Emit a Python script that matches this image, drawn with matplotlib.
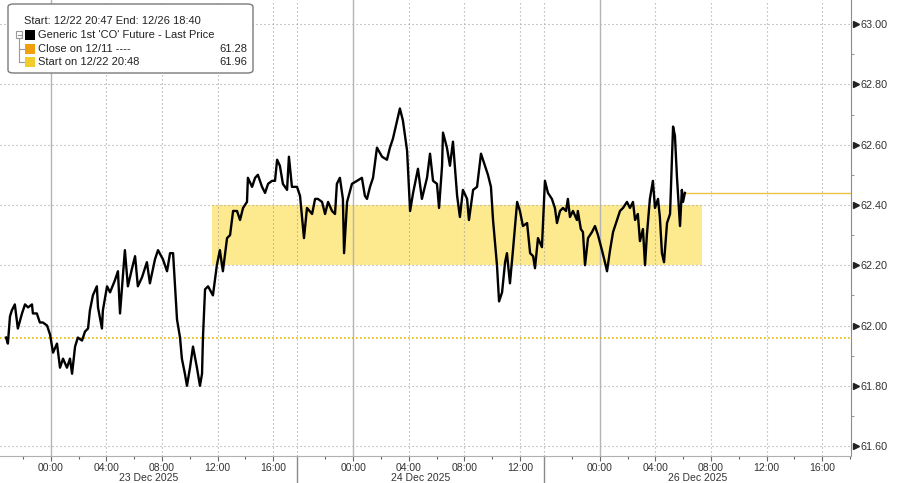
import pandas as pd
import matplotlib
matplotlib.use("Agg")
import matplotlib.pyplot as plt
import matplotlib.transforms as mtransforms
from matplotlib.patches import Rectangle, FancyBboxPatch
from matplotlib.lines import Line2D

plt.rcParams['font.family'] = ['Liberation Sans', 'DejaVu Sans']

# --- trading sessions on the axis (the hours between them are cut out) ---
sessions = [('2025-12-22 20:00', '2025-12-23 17:45'),
            ('2025-12-23 20:00', '2025-12-24 13:45'),
            ('2025-12-25 20:00', '2025-12-26 18:40')]
session_labels = ['23 Dec 2025', '24 Dec 2025', '26 Dec 2025']
view_start = '2025-12-22 20:21'
view_end = '2025-12-26 18:04'

# --- Generic 1st 'CO' Future - last price ---
s1_times = ['12-22 20:47', '12-22 20:55', '12-22 21:04', '12-22 21:12', '12-22 21:25', '12-22 21:38',
            '12-22 21:56', '12-22 22:09', '12-22 22:22', '12-22 22:39', '12-22 22:43', '12-22 23:00',
            '12-22 23:13', '12-22 23:26', '12-22 23:44', '12-22 23:57', '12-23 00:10', '12-23 00:27',
            '12-23 00:40', '12-23 00:53', '12-23 01:10', '12-23 01:23', '12-23 01:32', '12-23 01:45',
            '12-23 01:57', '12-23 02:15', '12-23 02:28', '12-23 02:41', '12-23 02:49', '12-23 03:02',
            '12-23 03:19', '12-23 03:24', '12-23 03:41', '12-23 03:45', '12-23 04:03', '12-23 04:16',
            '12-23 04:37', '12-23 04:50', '12-23 04:59', '12-23 05:20', '12-23 05:33', '12-23 05:51',
            '12-23 06:04', '12-23 06:16', '12-23 06:34', '12-23 06:55', '12-23 07:08', '12-23 07:30',
            '12-23 07:43', '12-23 08:04', '12-23 08:22', '12-23 08:35', '12-23 08:48', '12-23 09:05',
            '12-23 09:18', '12-23 09:26', '12-23 09:39', '12-23 09:48', '12-23 10:01', '12-23 10:14',
            '12-23 10:31', '12-23 10:44', '12-23 10:53', '12-23 10:57', '12-23 11:06', '12-23 11:19',
            '12-23 11:40', '12-23 11:57', '12-23 12:10', '12-23 12:23', '12-23 12:41', '12-23 12:54',
            '12-23 13:07', '12-23 13:24', '12-23 13:37', '12-23 13:50', '12-23 14:07', '12-23 14:11',
            '12-23 14:29', '12-23 14:42', '12-23 14:54', '12-23 15:12', '12-23 15:25', '12-23 15:38',
            '12-23 15:55', '12-23 16:08', '12-23 16:17', '12-23 16:29', '12-23 16:42', '12-23 17:00',
            '12-23 17:08', '12-23 17:21', '12-23 17:43']
s1_prices = [61.96, 61.94, 62.03, 62.05, 62.07, 61.99, 62.04, 62.07, 62.06, 62.07, 62.04, 62.04,
             62.01, 62.01, 62.00, 61.97, 61.91, 61.94, 61.86, 61.89, 61.86, 61.89, 61.84, 61.93,
             61.96, 61.95, 61.98, 61.99, 62.05, 62.10, 62.13, 62.06, 61.99, 62.05, 62.13, 62.11,
             62.15, 62.18, 62.04, 62.25, 62.13, 62.19, 62.23, 62.13, 62.16, 62.21, 62.14, 62.22,
             62.25, 62.22, 62.18, 62.24, 62.24, 62.02, 61.96, 61.89, 61.84, 61.80, 61.86, 61.93,
             61.86, 61.80, 61.84, 61.96, 62.12, 62.13, 62.10, 62.20, 62.25, 62.18, 62.29, 62.30,
             62.38, 62.38, 62.35, 62.39, 62.41, 62.49, 62.46, 62.49, 62.50, 62.46, 62.44, 62.47,
             62.48, 62.48, 62.55, 62.53, 62.47, 62.45, 62.56, 62.46, 62.46]

s2_times = ['12-23 20:11', '12-23 20:28', '12-23 20:41', '12-23 21:03', '12-23 21:16', '12-23 21:28',
            '12-23 21:46', '12-23 21:59', '12-23 22:12', '12-23 22:29', '12-23 22:42', '12-23 22:50',
            '12-23 23:03', '12-23 23:16', '12-23 23:21', '12-23 23:34', '12-23 23:55', '12-24 00:17',
            '12-24 00:38', '12-24 00:51', '12-24 01:00', '12-24 01:13', '12-24 01:26', '12-24 01:43',
            '12-24 02:05', '12-24 02:26', '12-24 02:39', '12-24 02:52', '12-24 03:10', '12-24 03:22',
            '12-24 03:35', '12-24 03:53', '12-24 04:06', '12-24 04:19', '12-24 04:40', '12-24 04:57',
            '12-24 05:19', '12-24 05:32', '12-24 05:45', '12-24 06:02', '12-24 06:11', '12-24 06:24',
            '12-24 06:28', '12-24 06:45', '12-24 06:58', '12-24 07:11', '12-24 07:29', '12-24 07:41',
            '12-24 07:54', '12-24 08:12', '12-24 08:20', '12-24 08:38', '12-24 08:55', '12-24 09:12',
            '12-24 09:29', '12-24 09:42', '12-24 09:55', '12-24 10:04', '12-24 10:21', '12-24 10:30',
            '12-24 10:43', '12-24 10:56', '12-24 11:04', '12-24 11:17', '12-24 11:30', '12-24 11:48',
            '12-24 12:00', '12-24 12:13', '12-24 12:31', '12-24 12:44', '12-24 12:57', '12-24 13:05',
            '12-24 13:18', '12-24 13:35']
s2_prices = [62.43, 62.29, 62.39, 62.37, 62.42, 62.42, 62.41, 62.37, 62.41, 62.38, 62.37, 62.47,
             62.49, 62.42, 62.24, 62.41, 62.47, 62.48, 62.49, 62.43, 62.42, 62.46, 62.49, 62.59,
             62.56, 62.55, 62.59, 62.62, 62.68, 62.72, 62.68, 62.58, 62.38, 62.44, 62.52, 62.42,
             62.49, 62.57, 62.48, 62.47, 62.39, 62.53, 62.64, 62.59, 62.53, 62.61, 62.43, 62.36,
             62.45, 62.42, 62.35, 62.45, 62.46, 62.57, 62.53, 62.50, 62.46, 62.35, 62.20, 62.08,
             62.11, 62.21, 62.24, 62.14, 62.25, 62.41, 62.38, 62.33, 62.34, 62.24, 62.23, 62.19,
             62.29, 62.26]

s3_times = ['12-25 20:03', '12-25 20:16', '12-25 20:33', '12-25 20:46', '12-25 20:55', '12-25 21:08',
            '12-25 21:21', '12-25 21:34', '12-25 21:42', '12-25 21:51', '12-25 22:04', '12-25 22:21',
            '12-25 22:25', '12-25 22:38', '12-25 22:47', '12-25 22:56', '12-25 23:09', '12-25 23:26',
            '12-25 23:39', '12-25 23:52', '12-26 00:09', '12-26 00:22', '12-26 00:31', '12-26 00:44',
            '12-26 00:57', '12-26 01:14', '12-26 01:27', '12-26 01:40', '12-26 01:57', '12-26 02:10',
            '12-26 02:23', '12-26 02:32', '12-26 02:44', '12-26 02:53', '12-26 03:06', '12-26 03:15',
            '12-26 03:23', '12-26 03:36', '12-26 03:49', '12-26 03:58', '12-26 04:11', '12-26 04:19',
            '12-26 04:28', '12-26 04:37', '12-26 04:50', '12-26 05:03', '12-26 05:16', '12-26 05:24',
            '12-26 05:33', '12-26 05:46', '12-26 05:54', '12-26 05:59', '12-26 06:07']
s3_prices = [62.48, 62.44, 62.42, 62.39, 62.34, 62.38, 62.39, 62.38, 62.42, 62.36, 62.38, 62.35,
             62.38, 62.32, 62.31, 62.20, 62.29, 62.31, 62.33, 62.30, 62.25, 62.21, 62.18, 62.25,
             62.31, 62.35, 62.38, 62.39, 62.41, 62.39, 62.41, 62.35, 62.37, 62.28, 62.32, 62.20,
             62.30, 62.42, 62.48, 62.39, 62.42, 62.36, 62.24, 62.21, 62.34, 62.37, 62.66, 62.63,
             62.49, 62.33, 62.45, 62.41, 62.44]

# --- reference levels ---
start_price = 61.96      # Start on 12/22 20:48
close_1211 = 61.28       # Close on 12/11 (off the chart)
band_low, band_high = 62.20, 62.40
band_start, band_end = '12-23 11:36', '12-26 07:21'

legend_header = 'Start: 12/22 20:47 End: 12/26 18:40'
legend_names = ["Generic 1st 'CO' Future - Last Price", 'Close on 12/11 ----', 'Start on 12/22 20:48']
legend_values = ['', f'{close_1211:.2f}', f'{start_price:.2f}']
legend_colors = ['#000000', '#f0a00c', '#f1cd2c']

y_ticks = [61.60, 61.80, 62.00, 62.20, 62.40, 62.60, 62.80, 63.00]


sess = [(pd.Timestamp(a), pd.Timestamp(b)) for a, b in sessions]


def to_x(ts):
    """Hours along the axis with the non-trading gaps removed."""
    ts = pd.Timestamp(ts)
    off = 0.0
    for i, (a, b) in enumerate(sess):
        if ts <= b or i == len(sess) - 1:
            return off + max((ts - a).total_seconds(), 0) / 3600
        off += (b - a).total_seconds() / 3600


def yr(t):
    return '2025-' + t


times = s1_times + s2_times + s3_times
prices = s1_prices + s2_prices + s3_prices
xs = [to_x(yr(t)) for t in times]

fig = plt.figure(figsize=(9, 4.83), dpi=100)
ax = fig.add_axes([0.0, 27.3 / 483, 851 / 900, 455.7 / 483])
x0, x1 = to_x(view_start), to_x(view_end)
ax.set_xlim(x0, x1)
ax.set_ylim(61.568, 63.08)

grid_kw = dict(color='#a0a0a0', lw=0.8, linestyle=(0, (1, 2.6)), zorder=2)

# yellow band
ax.add_patch(Rectangle((to_x(yr(band_start)), band_low), to_x(yr(band_end)) - to_x(yr(band_start)),
                       band_high - band_low, facecolor='#fde98e', edgecolor='none', zorder=1))

# horizontal grid
for y in y_ticks:
    ax.axhline(y, **grid_kw)

# x ticks every 2h inside sessions; labels at 4h
major, minor = [], []
for a, b in sess:
    for t in pd.date_range(a.ceil('2h'), b, freq='2h'):
        if t == a or not (x0 <= to_x(t) <= x1):
            continue
        if t.hour % 4 == 0 and t.hour != 20:
            major.append(t)
        else:
            minor.append(t)

for t in major:
    if t.hour == 0:
        ax.axvline(to_x(t), color='#b4b4b4', lw=1.0, zorder=2)
    else:
        ax.axvline(to_x(t), **grid_kw)
# session boundaries
for a, b in sess[1:]:
    ax.axvline(to_x(a), **grid_kw)

ax.set_xticks([to_x(t) for t in major])
ax.set_xticklabels([t.strftime('%H:%M') for t in major])
ax.set_xticks([to_x(t) for t in minor], minor=True)
ax.tick_params(axis='x', which='major', length=3.5, width=0.8, color='#666', pad=1.5,
               labelsize=7.5, labelcolor='#333')
ax.tick_params(axis='x', which='minor', length=2.5, width=0.8, color='#666')

# date labels and separators under the axis
tr = mtransforms.blended_transform_factory(ax.transData, ax.transAxes)
for i, ((a, b), lab) in enumerate(zip(sess, session_labels)):
    lo = max(to_x(a), x0)
    hi = min(to_x(b), x1)
    ax.text((lo + hi) / 2, -0.049, lab, transform=tr, ha='center', va='center',
            fontsize=7.5, color='#333')
    if i > 0:
        ax.plot([to_x(a), to_x(a)], [0, -0.065], transform=tr, color='#8a8a8a', lw=1.0, clip_on=False)

# y axis on the right
ax.yaxis.tick_right()
ax.set_yticks(y_ticks)
ax.set_yticklabels([f'{y:.2f}' for y in y_ticks])
ax.set_yticks([y + 0.1 for y in y_ticks[:-1]], minor=True)
ax.tick_params(axis='y', which='major', length=0, pad=7, labelsize=7.8, labelcolor='#333')
ax.tick_params(axis='y', which='minor', length=2.5, width=0.8, color='#999')
ty = mtransforms.blended_transform_factory(ax.transAxes, ax.transData)
ax.plot([1.006] * len(y_ticks), y_ticks, transform=ty, ls='none', marker='>', ms=4,
        color='#222', clip_on=False)

for side in ['left', 'top']:
    ax.spines[side].set_visible(False)
ax.spines['right'].set_color('#8c8c8c')
ax.spines['bottom'].set_color('#b0b0b0')
ax.spines['bottom'].set_linewidth(0.8)

# start level, last price line and the price
ax.axhline(start_price, color='#e3ba10', lw=1.2, linestyle=(0, (1, 1.4)), zorder=3)
ax.hlines(prices[-1], xs[-1], x1, color='#e8c440', lw=1.0, zorder=3)
ax.plot(xs, prices, color='black', lw=1.7, zorder=4)

# legend box in the top-left corner
def fx(px):
    return px / 900


def fy(py):
    return 1 - py / 483


fig.add_artist(FancyBboxPatch((fx(8), fy(73)), 245 / 900, 69 / 483,
                              boxstyle='round,pad=0,rounding_size=0.006', transform=fig.transFigure,
                              facecolor='white', edgecolor='#7a7a7a', lw=1.0, zorder=10))
fig.text(fx(24), fy(21.5), legend_header, fontsize=8, color='#222', va='center', zorder=11)
rows_y = [34.5, 48.5, 62]
for ry, name, val, col in zip(rows_y, legend_names, legend_values, legend_colors):
    fig.add_artist(Rectangle((fx(25), fy(ry + 5)), 10 / 900, 10 / 483, transform=fig.transFigure,
                             facecolor=col, edgecolor='none', zorder=11))
    fig.text(fx(38), fy(ry), name, fontsize=8, color='#222', va='center', zorder=11)
    if val:
        fig.text(fx(247), fy(ry), val, fontsize=8, color='#222', va='center', ha='right', zorder=11)

# tree connectors
tree = dict(color='#9a9a9a', lw=0.8, transform=fig.transFigure, zorder=11)
fig.add_artist(Rectangle((fx(16), fy(37.5)), 6 / 900, 6 / 483, transform=fig.transFigure,
                         facecolor='white', edgecolor='#9a9a9a', lw=0.8, zorder=11))
fig.add_artist(Line2D([fx(17.5), fx(20.5)], [fy(34.5), fy(34.5)], **tree))
fig.add_artist(Line2D([fx(19), fx(19)], [fy(37.5), fy(62)], **tree))
fig.add_artist(Line2D([fx(19), fx(24)], [fy(48.5), fy(48.5)], **tree))
fig.add_artist(Line2D([fx(19), fx(24)], [fy(62), fy(62)], **tree))

fig.savefig('out.png', dpi=100)
